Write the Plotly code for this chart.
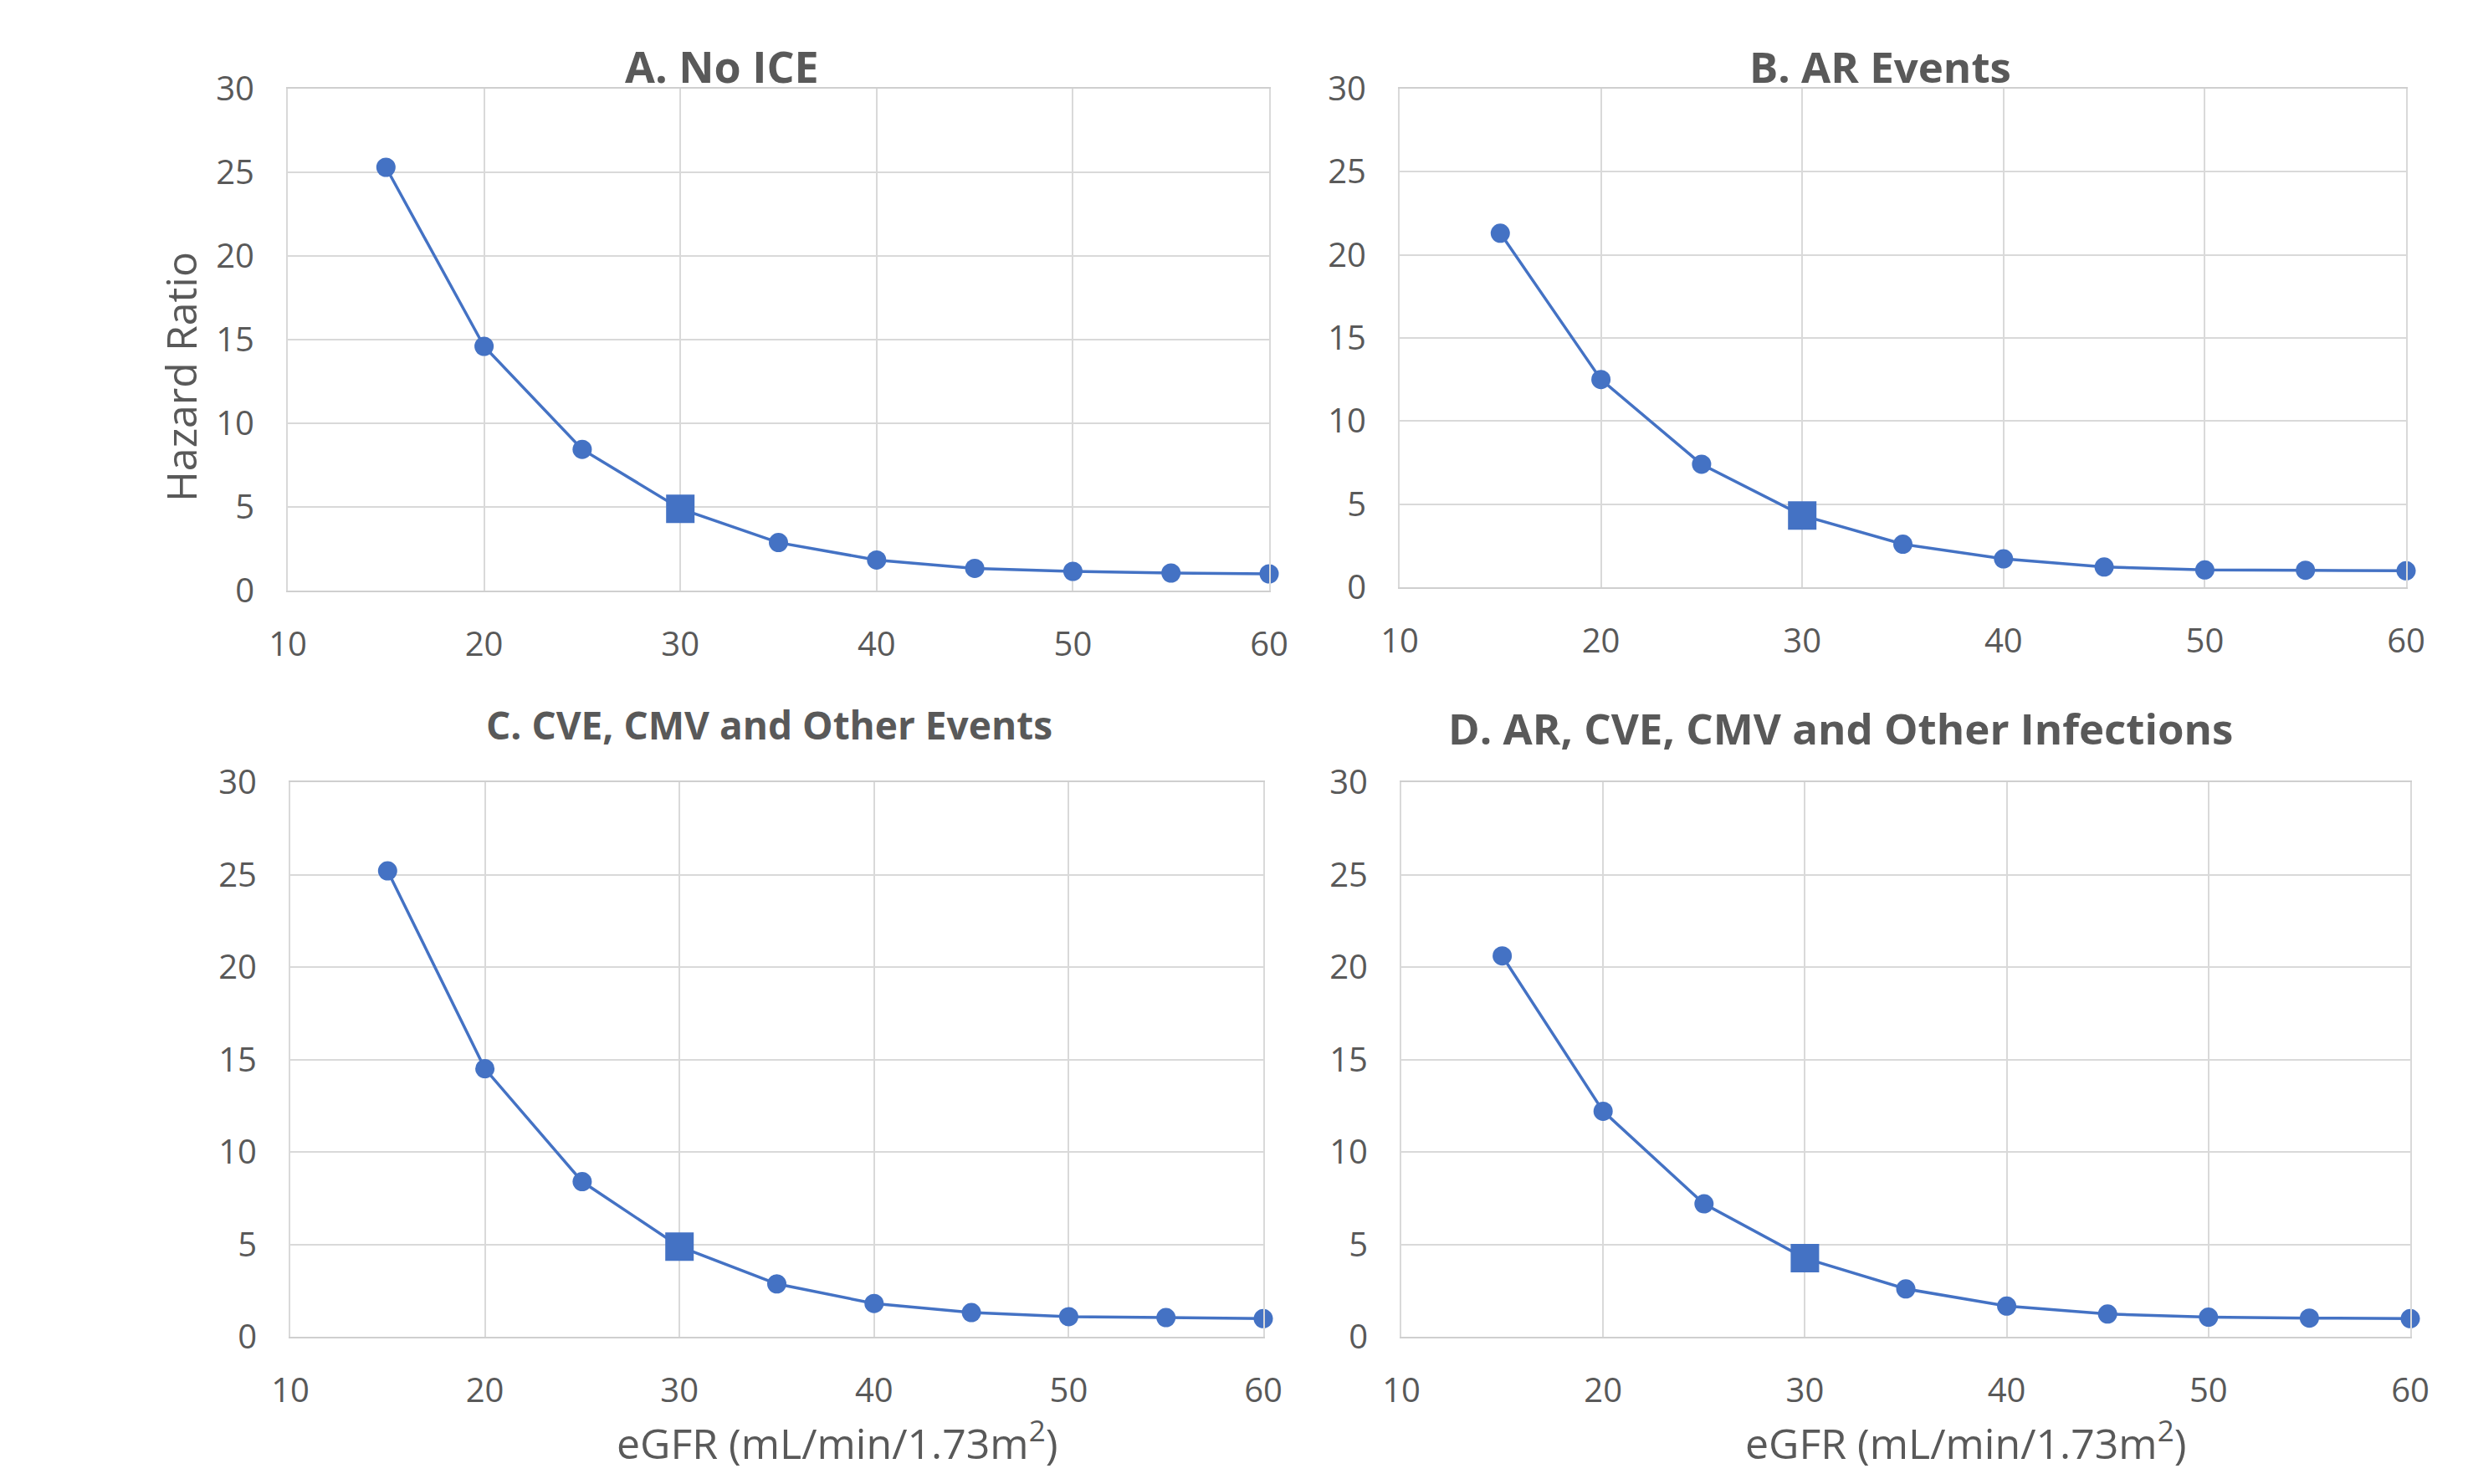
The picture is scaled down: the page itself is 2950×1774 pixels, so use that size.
import plotly.graph_objects as go

# ---- data ----
egfr = [15, 20, 25, 30, 35, 40, 45, 50, 55, 60]
hr_no_ice = [25.3, 14.6, 8.44, 4.89, 2.87, 1.83, 1.33, 1.15, 1.05, 1.0]
hr_ar = [21.3, 12.5, 7.40, 4.32, 2.59, 1.71, 1.22, 1.04, 1.02, 0.99]
hr_cve_cmv = [25.2, 14.5, 8.39, 4.88, 2.86, 1.80, 1.31, 1.09, 1.04, 0.98]
hr_all = [20.6, 12.2, 7.19, 4.25, 2.59, 1.66, 1.23, 1.06, 1.01, 0.98]
reference_egfr = 30

panel_titles = ["A. No ICE", "B. AR Events", "C. CVE, CMV and Other Events",
                "D. AR, CVE, CMV and Other Infections"]
x_ticks = [10, 20, 30, 40, 50, 60]
y_ticks = [0, 5, 10, 15, 20, 25, 30]
y_title = "Hazard Ratio"
x_title = "eGFR (mL/min/1.73m<sup>2</sup>)"

# ---- layout ----
PAGE_W, PAGE_H = 2950, 1774
OFF = 8  # browser body margin
W, H = PAGE_W - 2 * OFF, PAGE_H - 2 * OFF
BLUE = "#4472C4"
GRAY = "#595959"
FONT = "Open Sans, Noto Sans, sans-serif"


def px(xp):
    return (xp - OFF) / W


def py(yp):
    return 1 - (yp - OFF) / H


# plot areas in page pixels (left, right, top, bottom)
areas = [(344, 1517, 106, 706), (1673, 2876, 106, 702),
         (347, 1510, 935, 1598), (1675, 2881, 935, 1598)]
title_pos = [(863, 79, 52), (2247, 79, 51), (919, 866, 46), (2200, 870, 51)]

series = [hr_no_ice, hr_ar, hr_cve_cmv, hr_all]

fig = go.Figure()
symbols = ["square" if e == reference_egfr else "circle" for e in egfr]
sizes = [34 if e == reference_egfr else 23 for e in egfr]

layout = dict(width=W, height=H, margin=dict(l=0, r=0, t=0, b=0, pad=0, autoexpand=False),
              template="none",
              paper_bgcolor="white", plot_bgcolor="white", showlegend=False,
              font=dict(family=FONT, color=GRAY))
annotations = []
for i, (vals, (l, r, t, b)) in enumerate(zip(series, areas)):
    n = "" if i == 0 else str(i + 1)
    fig.add_trace(go.Scatter(
        x=egfr, y=vals, mode="lines+markers",
        line=dict(color=BLUE, width=3.5),
        marker=dict(color=BLUE, symbol=symbols, size=sizes, opacity=1,
                    line=dict(width=0)),
        xaxis="x" + n, yaxis="y" + n, cliponaxis=False))
    layout["xaxis" + n] = dict(
        domain=[px(l), px(r)], range=[10, 60], tickvals=x_ticks,
        showgrid=True, gridcolor="#d9d9d9", gridwidth=2,
        showline=True, linecolor="#cfcfcf", linewidth=2, mirror=True,
        zeroline=False, ticks="", ticklabelstandoff=28, automargin=False,
        tickfont=dict(size=40, color=GRAY, family=FONT),
        anchor="y" + n)
    layout["yaxis" + n] = dict(
        domain=[py(b), py(t)], range=[0, 30], tickvals=y_ticks,
        showgrid=True, gridcolor="#d9d9d9", gridwidth=2,
        showline=True, linecolor="#d9d9d9", linewidth=2, mirror=True,
        zeroline=False, ticks="", ticklabelstandoff=30, automargin=False,
        tickfont=dict(size=40, color=GRAY, family=FONT),
        anchor="x" + n)
    tx, ty, ts = title_pos[i]
    annotations.append(dict(text="<b>" + panel_titles[i] + "</b>", x=px(tx), y=py(ty),
                            xref="paper", yref="paper", showarrow=False,
                            xanchor="center", yanchor="middle",
                            font=dict(size=ts, color=GRAY, family=FONT)))

# y-axis title (panel A only)
annotations.append(dict(text=y_title, x=px(216), y=py(451), xref="paper", yref="paper",
                        showarrow=False, textangle=-90, xanchor="center", yanchor="middle",
                        font=dict(size=50, color=GRAY, family=FONT)))
# x-axis titles (panels C and D)
for cx in (1000, 2349):
    annotations.append(dict(text=x_title, x=px(cx), y=py(1722), xref="paper", yref="paper",
                            showarrow=False, xanchor="center", yanchor="middle",
                            font=dict(size=50, color=GRAY, family=FONT)))

layout["annotations"] = annotations
fig.update_layout(**layout)
fig.write_html("out.html")
